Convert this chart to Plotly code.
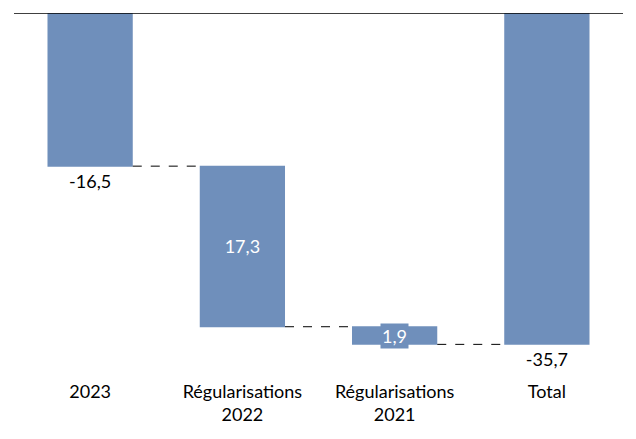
import plotly.graph_objects as go

categories = ["2023", "Régularisations<br>2022", "Régularisations<br>2021", "Total"]
deltas = [-16.5, -17.3, -1.9, 0]
measures = ["relative", "relative", "relative", "total"]
labels = ["-16,5", "17,3", "1,9", "-35,7"]
positions = ["outside", "inside", "none", "outside"]

bar_color = "rgb(111,143,187)"
font_family = "Lato, 'Open Sans', sans-serif"
fs = 18

fig = go.Figure(go.Waterfall(
    x=categories,
    y=deltas,
    measure=measures,
    text=labels,
    textposition=positions,
    insidetextanchor="middle",
    textfont=dict(size=fs, family=font_family),
    insidetextfont=dict(color="white", size=fs, family=font_family),
    outsidetextfont=dict(color="black", size=fs, family=font_family),
    constraintext="none",
    cliponaxis=False,
    decreasing=dict(marker=dict(color=bar_color)),
    increasing=dict(marker=dict(color=bar_color)),
    totals=dict(marker=dict(color=bar_color)),
    connector=dict(mode="between", line=dict(color="black", width=1, dash="dash")),
))

# label with background box for the thin bar
mid_2021 = sum(deltas[:2]) + deltas[2] / 2
fig.add_annotation(x=categories[2], y=mid_2021, text=labels[2], showarrow=False,
                   font=dict(color="white", size=fs, family=font_family),
                   bgcolor=bar_color, borderpad=1)

fig.add_shape(type="line", xref="paper", yref="y", x0=0, x1=1, y0=0, y1=0,
              line=dict(color="black", width=1.5))

fig.update_layout(
    width=628, height=431,
    margin=dict(l=6, r=13, t=5, b=64, autoexpand=False),
    plot_bgcolor="white", paper_bgcolor="white",
    waterfallgap=0.44,
    showlegend=False,
    font=dict(family=font_family, size=fs, color="black"),
    xaxis=dict(showgrid=False, showline=False, ticks="", tickfont=dict(size=fs),
               automargin=False, ticklabelstandoff=4),
    yaxis=dict(range=[-39, 0], visible=False, showgrid=False, zeroline=False, automargin=False),
)

fig.write_html("out.html")
